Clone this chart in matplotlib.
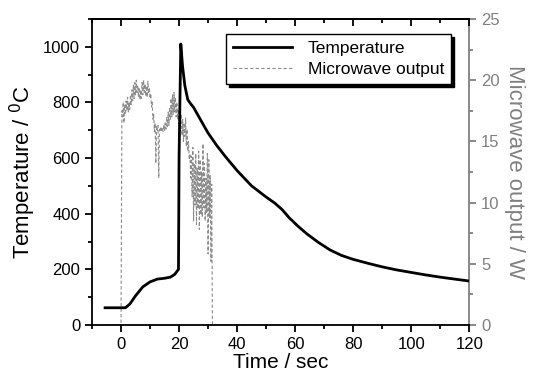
import matplotlib
matplotlib.use('Agg')
from matplotlib import pyplot as plt
from matplotlib.ticker import MultipleLocator

plt.rcParams['font.family'] = ['Liberation Sans', 'DejaVu Sans']

# temperature curve (sec, deg C)
temp_t = [-5.5, 1.5, 3, 5, 7.5, 10, 12.5, 15, 17, 18.5, 19.8, 20.0, 20.6, 21.2,
          22, 23, 24, 25, 27, 30, 33, 36, 40, 45, 50, 53, 55.5, 58, 61, 64,
          68, 72, 76, 80, 85, 90, 95, 100, 105, 110, 115, 120]
temp_c = [62, 62, 75, 105, 137, 155, 165, 168, 172, 182, 200, 600, 1010, 930,
          860, 810, 795, 782, 745, 690, 645, 605, 555, 500, 460, 438, 415, 385, 355, 328,
          297, 270, 250, 236, 222, 209, 198, 189, 180, 172, 165, 158]

# microwave output (sec, W)
mw_t = [-5, 0, 0.3,
        0.5, 0.75, 1.0, 1.25, 1.5, 1.75, 2.0, 2.25, 2.5, 2.75, 3.0, 3.25, 3.5, 3.75,
        4.0, 4.25, 4.5, 4.75, 5.0, 5.25, 5.5, 5.75, 6.0, 6.25, 6.5, 6.75, 7.0, 7.25,
        7.5, 7.75, 8.0, 8.25, 8.5, 8.75, 9.0, 9.25, 9.5, 9.75, 10.0, 10.25, 10.5,
        10.75, 11.0, 11.25, 11.5, 11.75, 12.0, 12.25, 12.5, 12.75, 13.0, 13.25, 13.5,
        13.75, 14.0, 14.25, 14.5, 14.75, 15.0, 15.25, 15.5, 15.75, 16.0, 16.25, 16.5,
        16.75, 17.0, 17.25, 17.5, 17.75, 18.0, 18.25, 18.5, 18.75, 19.0, 19.25, 19.5,
        19.75, 20.0, 20.25, 20.5, 20.75, 21.0, 21.25, 21.5, 21.75, 22.0, 22.25, 22.5,
        22.75, 23.0, 23.25, 23.5, 23.75, 24.0, 24.25, 24.5, 24.75, 25.0, 25.25, 25.5,
        25.75, 26.0, 26.25, 26.5, 26.75, 27.0, 27.25, 27.5, 27.75, 28.0, 28.25, 28.5,
        28.75, 29.0, 29.25, 29.5, 29.75, 30.0, 30.25, 30.5, 30.75, 31.0, 31.25, 31.5,
        120]
mw_w = [0, 0, 17.5,
        17.0, 18.2, 16.5, 18.0, 17.2, 18.3, 17.5, 18.6, 17.4, 18.2, 17.6, 18.8, 18.0, 19.2,
        18.3, 19.6, 18.5, 19.8, 18.8, 20.0, 19.0, 19.6, 18.6, 19.4, 18.4, 19.2, 18.5, 19.8,
        18.8, 20.0, 19.0, 19.7, 18.7, 19.5, 18.6, 19.9, 18.9, 19.4, 18.5, 18.9, 17.8,
        18.2, 16.8, 17.2, 15.8, 16.5, 13.2, 16.2, 15.9, 16.3, 12.0, 16.0, 15.8,
        16.2, 15.9, 16.1, 15.8, 16.4, 15.9, 16.5, 16.0, 17.0, 16.2, 17.4, 16.3,
        17.8, 16.8, 18.5, 17.0, 18.8, 17.2, 19.0, 17.4, 18.6, 17.0, 18.2, 16.8,
        17.6, 16.4, 17.5, 16.2, 17.2, 15.5, 16.8, 15.0, 16.5, 15.4, 16.9, 14.6,
        16.0, 14.2, 15.0, 13.5, 14.0, 12.0, 13.8, 10.5, 14.5, 8.5, 13.2, 9.8,
        14.0, 8.2, 12.8, 9.5, 14.2, 7.8, 13.5, 9.0, 12.5, 8.8, 14.8, 9.6,
        13.2, 8.5, 12.0, 9.2, 14.0, 5.8, 13.5, 8.8, 12.2, 5.2, 11.5, 0,
        0]

fig = plt.figure(figsize=(5.35, 3.86), dpi=100)
ax = fig.add_axes([0.172, 0.158, 0.705, 0.793])
ax2 = ax.twinx()

l1, = ax.plot(temp_t, temp_c, c='black', lw=2.0, label='Temperature', zorder=3)
l2, = ax2.plot(mw_t, mw_w, c='#8c8c8c', lw=0.8, ls=(0, (3, 2)), label='Microwave output')
ax.set_zorder(ax2.get_zorder() + 1)
ax.patch.set_visible(False)

ax.set_xlim(-10, 120)
ax.set_ylim(0, 1100)
ax2.set_ylim(0, 25)

ax.xaxis.set_major_locator(MultipleLocator(20))
ax.xaxis.set_minor_locator(MultipleLocator(10))
ax.yaxis.set_major_locator(MultipleLocator(200))
ax.yaxis.set_minor_locator(MultipleLocator(100))
ax2.yaxis.set_major_locator(MultipleLocator(5))
ax2.yaxis.set_minor_locator(MultipleLocator(2.5))

for s in ['left', 'bottom', 'top']:
    ax.spines[s].set_linewidth(1.3)
ax.spines['right'].set_visible(False)
ax2.spines['left'].set_visible(False)
ax2.spines['top'].set_visible(False)
ax2.spines['bottom'].set_visible(False)
ax2.spines['right'].set_color('#808080')
ax2.spines['right'].set_linewidth(1.3)

ax.tick_params(axis='both', which='major', direction='out', length=5, width=1.3,
               labelsize=12, top=False)
ax.tick_params(axis='both', which='minor', direction='out', length=3, width=1.3, top=False)
# top ticks, pointing inward
top = ax.secondary_xaxis('top')
top.xaxis.set_major_locator(MultipleLocator(20))
top.xaxis.set_minor_locator(MultipleLocator(10))
top.tick_params(which='major', direction='in', length=5, width=1.3, labeltop=False)
top.tick_params(which='minor', direction='in', length=3, width=1.3)
top.spines['top'].set_linewidth(1.3)

ax2.tick_params(axis='y', which='major', direction='out', length=5, width=1.3,
                labelsize=12, colors='#808080')
ax2.tick_params(axis='y', which='minor', direction='out', length=3, width=1.3,
                colors='#808080')

ax.set_xlabel('Time / sec', fontsize=15, labelpad=1)
ax.set_ylabel('Temperature / $^0$C', fontsize=16, labelpad=4)
ax2.set_ylabel('Microwave output / W', fontsize=16, color='#808080', rotation=270,
               labelpad=18)

leg = ax.legend([l1, l2], ['Temperature', 'Microwave output'], loc='upper right',
                bbox_to_anchor=(0.952, 0.951), borderaxespad=0, fontsize=12.5,
                fancybox=False, edgecolor='black', handlelength=3.4, handletextpad=0.9,
                shadow={'color': 'black', 'alpha': 1}, borderpad=0.4, labelspacing=0.35)
leg.get_frame().set_linewidth(1.0)

fig.savefig('out.png', dpi=100)
